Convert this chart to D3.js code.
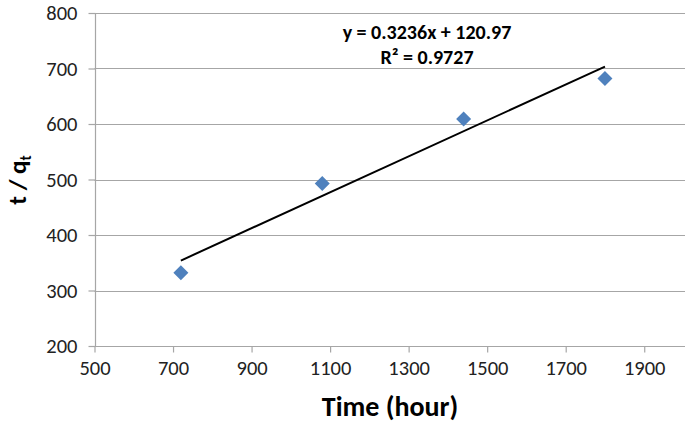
<!DOCTYPE html>
<html><head><meta charset="utf-8">
<script src="https://cdn.jsdelivr.net/npm/d3@7"></script>
<style>body{margin:0;background:#fff}svg{display:block}</style>
</head><body>
<svg id="c" width="685" height="426"></svg>
<script>
const timeHours = [720, 1080, 1440, 1800];
const tOverQ = [332, 493, 609, 682];
const xTicks = [500, 700, 900, 1100, 1300, 1500, 1700, 1900];
const yTicks = [200, 300, 400, 500, 600, 700, 800];
const slope = 0.3236, intercept = 120.97;
const eqLines = ["y = 0.3236x + 120.97", "R² = 0.9727"];

const svg = d3.select("#c");
const font = "Carlito, 'Open Sans', 'Liberation Sans', sans-serif";
const x = d3.scaleLinear().domain([500, 2000]).range([94.5, 683.5]);
const y = d3.scaleLinear().domain([200, 800]).range([346, 13]);
const gridColor = "#a6a6a6";

svg.append("g").selectAll("line").data(yTicks).join("line")
  .attr("x1", x(500)).attr("x2", 685)
  .attr("y1", d => Math.round(y(d)) + 0.5).attr("y2", d => Math.round(y(d)) + 0.5)
  .attr("stroke", gridColor).attr("stroke-width", 1.2);

const yAxis = svg.append("g").attr("transform", `translate(${Math.round(x(500))+0.5},0)`)
  .call(d3.axisLeft(y).tickValues(yTicks).tickSize(7).tickPadding(11).tickFormat(d3.format("d")));
yAxis.select(".domain").attr("stroke", gridColor).attr("stroke-width", 1.2).attr("d", `M0,${y(800)}V${y(200)}`);
yAxis.selectAll(".tick line").attr("stroke", gridColor).attr("stroke-width", 1.2);
yAxis.selectAll("text").attr("font-family", font).attr("font-size", 20.5).attr("fill", "#222");

const xAxis = svg.append("g").attr("transform", `translate(0,${Math.round(y(200))+0.5})`)
  .call(d3.axisBottom(x).tickValues(xTicks).tickSize(6).tickPadding(8).tickFormat(d3.format("d")));
xAxis.select(".domain").attr("stroke", gridColor).attr("stroke-width", 1.2).attr("d", `M${x(500)},0H685`);
xAxis.selectAll(".tick line").attr("stroke", gridColor).attr("stroke-width", 1.2);
xAxis.selectAll("text").attr("font-family", font).attr("font-size", 20.5).attr("fill", "#222");

const x0 = d3.min(timeHours), x1 = d3.max(timeHours);
svg.append("line")
  .attr("x1", x(x0)).attr("y1", y(slope*x0+intercept))
  .attr("x2", x(x1)).attr("y2", y(slope*x1+intercept))
  .attr("stroke", "#000").attr("stroke-width", 2);

svg.append("g").selectAll("path").data(timeHours.map((t,i)=>[t, tOverQ[i]])).join("path")
  .attr("transform", d => `translate(${x(d[0])},${y(d[1])})`)
  .attr("d", "M0,-7.5L7.5,0L0,7.5L-7.5,0Z")
  .attr("fill", "#4f81bd");

svg.append("g").selectAll("text").data(eqLines).join("text")
  .attr("x", 427).attr("y", (d,i) => 39 + i*25)
  .attr("text-anchor", "middle").attr("font-family", font)
  .attr("font-size", 20).attr("font-weight", "bold").attr("fill", "#000")
  .text(d => d);

svg.append("text").attr("x", 390).attr("y", 416).attr("text-anchor", "middle")
  .attr("font-family", font).attr("font-size", 28).attr("font-weight", "bold")
  .text("Time (hour)");
const yt = svg.append("text").attr("transform", "translate(26,180) rotate(-90)")
  .attr("text-anchor", "middle").attr("font-family", font).attr("font-size", 25).attr("font-weight", "bold");
yt.append("tspan").text("t / q");
yt.append("tspan").attr("font-size", 15).attr("dy", 5).text("t");
</script>
</body></html>
